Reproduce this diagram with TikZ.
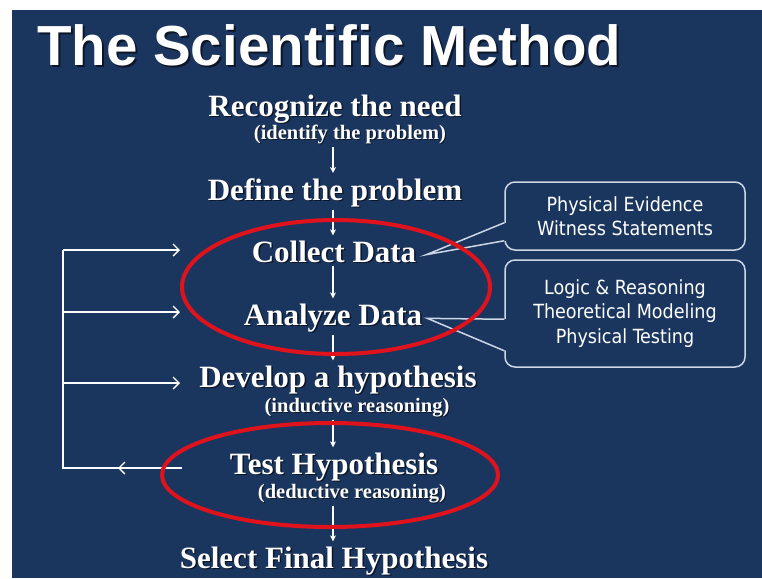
\documentclass[tikz,border=0pt]{standalone}
\usepackage{fontspec}
\setmainfont{Liberation Serif}
\newfontfamily\headfont{Liberation Sans}
\newfontfamily\notefont{DejaVu Sans Condensed}
\usetikzlibrary{arrows.meta,calc}
\definecolor{navy}{RGB}{27,54,94}
\definecolor{ringred}{RGB}{224,18,28}
\definecolor{edge}{RGB}{205,214,228}
\definecolor{shade}{RGB}{12,22,40}
% white text with a dark drop shadow
\newcommand\shd[2][1.5pt]{\rlap{\kern#1\raisebox{-#1}{\textcolor{shade}{#2}}}#2}

\begin{document}
\begin{tikzpicture}[x=1pt,y=-1pt,
  step label/.style={text=white, font=\bfseries\fontsize{31}{31}\selectfont, anchor=base, inner sep=0pt},
  sub label/.style={text=white, font=\bfseries\fontsize{20.5}{20.5}\selectfont, anchor=base, inner sep=0pt},
  flow/.style={white, line width=1.1pt, -{Stealth[length=6pt,width=6pt]}, shorten <=2pt, shorten >=5pt},
  loop line/.style={white, line width=1.4pt},
  loop arrow/.style={loop line, -{Straight Barb[length=6pt,width=12pt]}},
  ring/.style={ringred, line width=4pt},
  note box/.style={draw=edge, line width=1.5pt, rounded corners=10pt, fill=navy, text=white,
    font=\notefont\fontsize{19.5}{24.5}\selectfont, align=center, minimum width=240pt, inner sep=0pt},
  pointer/.style={edge, line width=1.5pt}
]
\useasboundingbox (0,0) rectangle (762,578);
\fill[white] (0,0) rectangle (762,578);
\fill[navy] (12,10) rectangle (762,578);

% heading
\node[anchor=base west, inner sep=0pt, text=white,
      font=\headfont\bfseries\fontsize{56.5}{56.5}\selectfont] (title) at (37,65)
      {\shd[2pt]{The Scientific Method}};

% the steps of the method
\node[step label] (need)    at (335,116) {\shd{Recognize the need}};
\node[sub label]  (needsub) at (350,139.5) {\shd[1pt]{(identify the problem)}};
\node[step label] (define)  at (335,200) {\shd{Define the problem}};
\node[step label] (collect) at (334,262) {\shd{Collect Data}};
\node[step label] (analyze) at (333,325) {\shd{Analyze Data}};
\node[step label] (develop) at (338,387) {\shd{Develop a hypothesis}};
\node[sub label]  (devsub)  at (357,412) {\shd[1pt]{(inductive reasoning)}};
\node[step label] (test)    at (334,474) {\shd{Test Hypothesis}};
\node[sub label]  (testsub) at (352,498) {\shd[1pt]{(deductive reasoning)}};
\node[step label] (select)  at (334,568) {\shd{Select Final Hypothesis}};

% downward flow
\coordinate (axis) at (333,0);
\draw[flow] (needsub.south -| axis) -- (define.north -| axis);
\draw[flow] (define.south -| axis)  -- (collect.north -| axis);
\draw[flow] (collect.south -| axis) -- (analyze.north -| axis);
\draw[flow] (analyze.south -| axis) -- (develop.north -| axis);
\draw[flow] (devsub.south -| axis)  -- (test.north -| axis);
\draw[flow] (testsub.south -| axis) -- (select.north -| axis);

% callout boxes
\node[note box, minimum height=68pt]  (evidence) at (625,216)   {Physical Evidence\\Witness Statements};
\node[note box, minimum height=107pt] (methods)  at (625,313.5) {Logic \& Reasoning\\Theoretical Modeling\\Physical Testing};

\coordinate (tipA) at ($(collect.east)+(10,2.5)$);
\coordinate (tipB) at ($(analyze.east)+(5,0)$);
\coordinate (a1) at ($(evidence.south west)+(0,-28)$);
\coordinate (a2) at ($(evidence.south west)+(0,-10)$);
\coordinate (b1) at ($(methods.north west)+(0,60)$);
\coordinate (b2) at ($(methods.south west)+(0,-17)$);
\fill[navy] (tipA) -- ($(a1)+(2,0)$) -- ($(a2)+(2,0)$) -- cycle;
\fill[navy] (tipB) -- ($(b1)+(2,0)$) -- ($(b2)+(2,0)$) -- cycle;
\draw[pointer] (a1) -- (tipA) -- (a2);
\draw[pointer] (b1) -- (tipB) -- (b2);

% feedback loop
\coordinate (lA) at (63,250);
\coordinate (lB) at (63,312);
\coordinate (lC) at (63,383);
\coordinate (lD) at (63,468);
\coordinate (eA) at (180,250);
\coordinate (eB) at (180,312);
\coordinate (eC) at (180,383);
\coordinate (back) at (182,468);
\coordinate (backtip) at (118,468);
\draw[loop line] (back) -- (lD) -- (lA);
\draw[loop arrow] (lA) -- (eA);
\draw[loop arrow] (lB) -- (eB);
\draw[loop arrow] (lC) -- (eC);
\draw[loop arrow] ($(backtip)+(14,0)$) -- (backtip);

% highlight rings
\draw[ring] (336,287) ellipse [x radius=154, y radius=67];
\draw[ring] (330,475) ellipse [x radius=168, y radius=52];
\end{tikzpicture}
\end{document}
